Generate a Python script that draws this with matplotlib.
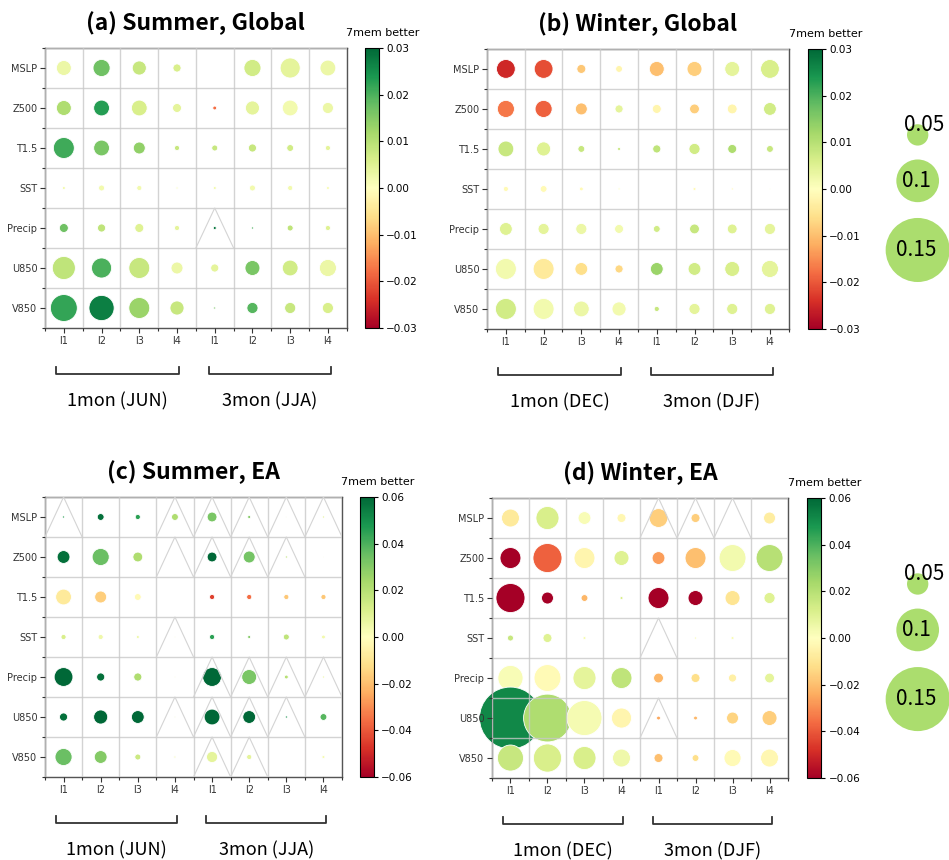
import numpy as np
import matplotlib
matplotlib.use("Agg")
import matplotlib.pyplot as plt
from matplotlib.colors import Normalize
from matplotlib.transforms import blended_transform_factory

# ---- data -------------------------------------------------------------
variables = ["MSLP", "Z500", "T1.5", "SST", "Precip", "U850", "V850"]
leads = ["l1", "l2", "l3", "l4", "l1", "l2", "l3", "l4"]

titles = ["(a) Summer, Global", "(b) Winter, Global", "(c) Summer, EA", "(d) Winter, EA"]
periods = [("1mon (JUN)", "3mon (JJA)"), ("1mon (DEC)", "3mon (DJF)"),
           ("1mon (JUN)", "3mon (JJA)"), ("1mon (DEC)", "3mon (DJF)")]
vmax = [0.03, 0.03, 0.06, 0.06]

# bubble size (magnitude) per variable x lead
size_a = [[0.035, 0.040, 0.033, 0.019, 0.000, 0.040, 0.047, 0.037],
          [0.035, 0.037, 0.037, 0.021, 0.009, 0.033, 0.037, 0.026],
          [0.049, 0.037, 0.028, 0.012, 0.014, 0.019, 0.016, 0.012],
          [0.007, 0.014, 0.012, 0.005, 0.007, 0.014, 0.012, 0.007],
          [0.021, 0.019, 0.021, 0.012, 0.007, 0.005, 0.014, 0.012],
          [0.054, 0.047, 0.049, 0.028, 0.019, 0.035, 0.037, 0.040],
          [0.063, 0.059, 0.049, 0.033, 0.005, 0.026, 0.026, 0.026]]
diff_a = [[0.003, 0.017, 0.008, 0.006, 0.000, 0.007, 0.004, 0.003],
          [0.011, 0.023, 0.006, 0.004, -0.018, 0.004, 0.002, 0.003],
          [0.021, 0.016, 0.014, 0.008, 0.008, 0.008, 0.007, 0.004],
          [0.002, 0.002, 0.002, 0.001, 0.002, 0.002, 0.002, 0.001],
          [0.017, 0.009, 0.005, 0.004, 0.028, 0.020, 0.009, 0.005],
          [0.009, 0.020, 0.008, 0.003, 0.004, 0.016, 0.007, 0.003],
          [0.022, 0.027, 0.013, 0.008, 0.016, 0.019, 0.008, 0.006]]

size_b = [[0.044, 0.044, 0.021, 0.016, 0.035, 0.035, 0.035, 0.044],
          [0.040, 0.040, 0.028, 0.019, 0.021, 0.023, 0.023, 0.030],
          [0.037, 0.033, 0.016, 0.007, 0.019, 0.026, 0.021, 0.016],
          [0.012, 0.016, 0.009, 0.005, 0.000, 0.007, 0.005, 0.002],
          [0.030, 0.026, 0.026, 0.021, 0.016, 0.023, 0.023, 0.026],
          [0.049, 0.049, 0.030, 0.019, 0.030, 0.030, 0.035, 0.040],
          [0.049, 0.049, 0.037, 0.033, 0.012, 0.026, 0.026, 0.026]]
diff_b = [[-0.025, -0.021, -0.009, -0.002, -0.010, -0.008, 0.004, 0.006],
          [-0.017, -0.019, -0.010, 0.004, -0.002, -0.008, -0.002, 0.007],
          [0.008, 0.005, 0.008, 0.008, 0.009, 0.007, 0.011, 0.008],
          [-0.001, -0.001, -0.001, 0.000, 0.000, -0.001, -0.001, 0.000],
          [0.005, 0.004, 0.003, 0.002, 0.007, 0.008, 0.005, 0.004],
          [0.002, -0.004, -0.006, -0.007, 0.013, 0.007, 0.006, 0.004],
          [0.007, 0.002, 0.003, 0.002, 0.008, 0.004, 0.005, 0.005]]

size_c = [[0.005, 0.016, 0.012, 0.016, 0.023, 0.007, 0.002, 0.005],
          [0.030, 0.040, 0.023, 0.000, 0.023, 0.028, 0.005, 0.002],
          [0.037, 0.028, 0.016, 0.000, 0.012, 0.012, 0.012, 0.012],
          [0.012, 0.012, 0.007, 0.002, 0.012, 0.007, 0.014, 0.009],
          [0.044, 0.019, 0.019, 0.002, 0.044, 0.035, 0.009, 0.005],
          [0.019, 0.033, 0.030, 0.002, 0.037, 0.030, 0.005, 0.016],
          [0.040, 0.030, 0.014, 0.005, 0.026, 0.012, 0.000, 0.007]]
diff_c = [[0.045, 0.058, 0.045, 0.022, 0.032, 0.030, 0.005, 0.008],
          [0.058, 0.035, 0.022, 0.000, 0.060, 0.033, 0.018, 0.005],
          [-0.008, -0.016, -0.002, 0.000, -0.045, -0.036, -0.018, -0.018],
          [0.012, 0.005, 0.005, 0.003, 0.045, 0.030, 0.018, 0.004],
          [0.060, 0.058, 0.022, 0.002, 0.060, 0.032, 0.020, 0.005],
          [0.058, 0.060, 0.060, 0.010, 0.060, 0.060, 0.050, 0.038],
          [0.035, 0.030, 0.015, 0.003, 0.008, 0.008, 0.000, 0.003]]

size_d = [[0.042, 0.054, 0.030, 0.021, 0.044, 0.021, 0.000, 0.028],
          [0.049, 0.068, 0.049, 0.035, 0.030, 0.049, 0.063, 0.063],
          [0.068, 0.028, 0.016, 0.007, 0.049, 0.035, 0.035, 0.026],
          [0.014, 0.021, 0.007, 0.000, 0.000, 0.005, 0.007, 0.000],
          [0.059, 0.063, 0.054, 0.049, 0.023, 0.021, 0.019, 0.023],
          [0.145, 0.112, 0.082, 0.047, 0.009, 0.009, 0.028, 0.035],
          [0.061, 0.066, 0.054, 0.042, 0.021, 0.016, 0.040, 0.042]]
diff_d = [[-0.008, 0.012, 0.002, -0.003, -0.016, -0.016, 0.000, -0.007],
          [-0.060, -0.038, -0.004, 0.010, -0.027, -0.020, 0.004, 0.020],
          [-0.060, -0.060, -0.022, 0.012, -0.060, -0.060, -0.010, 0.010],
          [0.016, 0.010, 0.003, 0.000, 0.000, 0.002, 0.002, 0.000],
          [0.002, -0.002, 0.008, 0.018, -0.022, -0.012, -0.006, 0.008],
          [0.052, 0.022, 0.003, -0.004, -0.025, -0.022, -0.015, -0.016],
          [0.016, 0.012, 0.012, 0.005, -0.020, -0.012, -0.002, -0.003]]

# cells marked with a triangle (row, col)
tri_a = [(4, 4)]
tri_b = []
tri_c = [(0, 0), (0, 3), (0, 4), (0, 5), (0, 6), (0, 7),
         (1, 3), (1, 4), (1, 5), (1, 6), (3, 3),
         (4, 4), (4, 5), (4, 6), (4, 7),
         (5, 3), (5, 4), (5, 5), (5, 6), (6, 4), (6, 5)]
tri_d = [(0, 4), (0, 5), (0, 6), (3, 4), (5, 4)]

legend_sizes = [0.05, 0.1, 0.15]

sizes = [size_a, size_b, size_c, size_d]
diffs = [diff_a, diff_b, diff_c, diff_d]
tris = [tri_a, tri_b, tri_c, tri_d]

# ---- plotting ---------------------------------------------------------
KFONT = ["Noto Sans CJK KR", "DejaVu Sans"]
cmap = plt.get_cmap("RdYlGn")
PT = 427 * 0.72   # diameter in points per unit of size


def area(v):
    return (np.asarray(v) * PT) ** 2


fig = plt.figure(figsize=(9.49, 8.60), dpi=100)

# axes boxes in figure fraction: [left, bottom, width, height], colorbar left
boxes = [([0.0474, 0.6186, 0.318, 0.3256], 0.3846),
         ([0.5132, 0.6175, 0.318, 0.3256], 0.8514),
         ([0.0474, 0.0965, 0.313, 0.3256], 0.3793),
         ([0.5184, 0.0953, 0.312, 0.3256], 0.8504)]

nrow, ncol = len(variables), len(leads)
xx, yy = np.meshgrid(np.arange(ncol), np.arange(nrow))

for k in range(4):
    box, cleft = boxes[k]
    ax = fig.add_axes(box)
    norm = Normalize(-vmax[k], vmax[k])
    s = np.array(sizes[k])
    c = np.array(diffs[k])
    sc = ax.scatter(xx.ravel(), yy.ravel(), s=area(s.ravel()), c=c.ravel(),
                    cmap=cmap, norm=norm, edgecolors="white", linewidths=0.6,
                    clip_on=False, zorder=1)
    for (r, q) in tris[k]:
        ax.plot([q - 0.5, q, q + 0.5], [r + 0.5, r - 0.5, r + 0.5],
                color="#d4d4d4", lw=0.8, zorder=3)

    ax.set_xlim(-0.5, ncol - 0.5)
    ax.set_ylim(nrow - 0.5, -0.5)
    ax.set_xticks(np.arange(ncol))
    ax.set_xticklabels(leads, fontsize=7)
    ax.set_yticks(np.arange(nrow))
    ax.set_yticklabels(variables, fontsize=7)
    ax.set_xticks(np.arange(ncol + 1) - 0.5, minor=True)
    ax.set_yticks(np.arange(nrow + 1) - 0.5, minor=True)
    ax.tick_params(which="major", length=3.5, width=0.8, colors="#333333", pad=2)
    ax.tick_params(which="minor", length=2.5, width=0.8, colors="#333333")
    ax.set_axisbelow(False)
    ax.grid(which="minor", color="#c8c8c8", lw=1.0, alpha=0.8)
    for sp in ax.spines.values():
        sp.set_color("#555555")
        sp.set_linewidth(1.0)
    ax.set_title(titles[k], fontsize=16.5, fontweight="bold", family=KFONT, pad=13)

    # period brackets under the x axis
    tr = blended_transform_factory(ax.transData, ax.transAxes)
    for (x0, x1), lab in zip([(-0.2, 3.05), (3.85, 7.07)], periods[k]):
        ax.plot([x0, x0, x1, x1], [-0.14, -0.163, -0.163, -0.14], transform=tr,
                color="#333333", lw=1.3, clip_on=False)
        ax.text((x0 + x1) / 2, -0.262, lab, transform=tr, ha="center", va="center",
                fontsize=13, family=KFONT)

    # colorbar
    cax = fig.add_axes([cleft, box[1], 0.0152, box[3]])
    cb = fig.colorbar(sc, cax=cax)
    cb.set_ticks(np.linspace(-vmax[k], vmax[k], 7))
    cb.ax.tick_params(labelsize=7.5, length=3, width=0.8, pad=2)
    cb.outline.set_linewidth(0.8)
    cax.text(1.2, 1.035, "7mem better", transform=cax.transAxes, ha="center",
             va="bottom", fontsize=8)

    # size legend on the right of each row
    if k in (1, 3):
        lax = fig.add_axes([0.925, box[1], 0.07, box[3]])
        lax.set_xlim(-1, 1)
        lax.set_ylim(1, 0)
        lax.axis("off")
        ly = [0.307, 0.471, 0.718]
        lax.scatter(np.zeros(len(legend_sizes)) + 0.2, ly, s=area(legend_sizes),
                    color="#abdd6e", edgecolors="none", clip_on=False)
        for v, y in zip(legend_sizes, ly):
            dx, dy = (0.4, -0.035) if v == 0.05 else (0.15, 0.0)
            lax.text(dx, y + dy, f"{v:g}", ha="center", va="center",
                     fontsize=15, family=KFONT)

fig.savefig("out.png", dpi=100)
